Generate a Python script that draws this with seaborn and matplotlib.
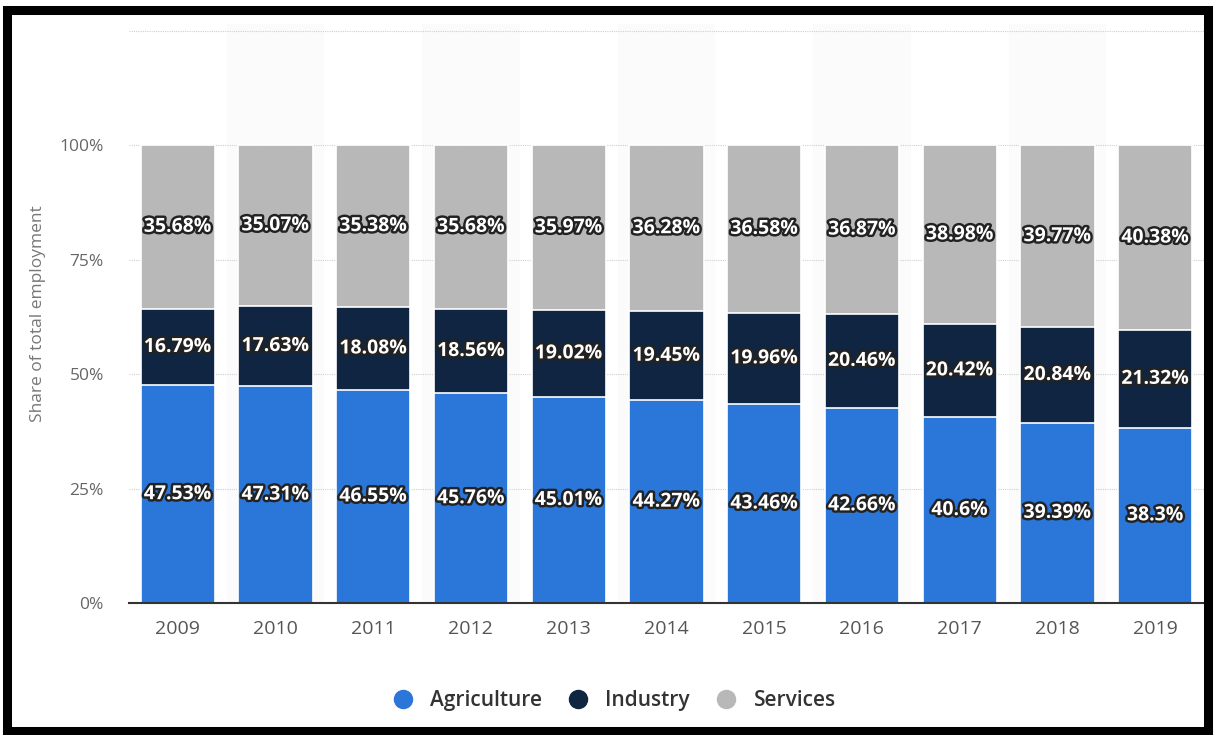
import matplotlib.pyplot as plt
import matplotlib.patheffects as pe
import numpy as np
import pandas as pd
import seaborn as sns
from matplotlib.lines import Line2D
from matplotlib.patches import Rectangle

years = ["2009", "2010", "2011", "2012", "2013", "2014", "2015", "2016", "2017", "2018", "2019"]
agriculture = [47.53, 47.31, 46.55, 45.76, 45.01, 44.27, 43.46, 42.66, 40.6, 39.39, 38.3]
industry = [16.79, 17.63, 18.08, 18.56, 19.02, 19.45, 19.96, 20.46, 20.42, 20.84, 21.32]
services = [35.68, 35.07, 35.38, 35.68, 35.97, 36.28, 36.58, 36.87, 38.98, 39.77, 40.38]
sectors = ["Agriculture", "Industry", "Services"]
colors = ["#2a76d9", "#0f2541", "#b8b8b8"]

sns.set_style("white")
plt.rcParams["font.family"] = ["Open Sans", "DejaVu Sans"]

df = pd.DataFrame({"year": years, "Agriculture": agriculture,
                   "Industry": industry, "Services": services})
df["ag_top"] = df["Agriculture"]
df["ind_top"] = df["Agriculture"] + df["Industry"]
df["srv_top"] = df["ind_top"] + df["Services"]

fig = plt.figure(figsize=(12.15, 7.35), dpi=100)
ax = fig.add_axes([0.106, 0.1796, 0.885, 0.788])

# alternating column shading (very faint)
for i in range(len(years)):
    if i % 2 == 1:
        ax.axvspan(i - 0.5, i + 0.5, color="#fbfbfb", zorder=0, lw=0)

# dotted grid
for y in [25, 50, 75, 100, 125]:
    ax.axhline(y, color="#d0d0d0", lw=0.8, ls=(0, (1, 1)), zorder=0.5)

# stacked bars drawn as cumulative totals, largest first
for col, color in zip(["srv_top", "ind_top", "ag_top"], colors[::-1]):
    sns.barplot(data=df, x="year", y=col, color=color, width=0.76,
                edgecolor="white", linewidth=1.2, saturation=1, ax=ax, zorder=2)

stroke = [pe.withStroke(linewidth=3.5, foreground="#222222")]
for i in range(len(years)):
    segs = [(0, agriculture[i]),
            (agriculture[i], industry[i]),
            (agriculture[i] + industry[i], services[i])]
    for base, val in segs:
        ax.text(i, base + val / 2, f"{val:g}%", ha="center", va="center",
                color="white", fontsize=14, fontweight="bold",
                path_effects=stroke, zorder=5)

ax.set_xlim(-0.5, len(years) - 0.5)
ax.set_ylim(0, 126.5)
ax.set_yticks([0, 25, 50, 75, 100])
ax.set_yticklabels(["0%", "25%", "50%", "75%", "100%"])
ax.tick_params(axis="y", length=0, labelsize=12.5, labelcolor="#666666", pad=18)
ax.tick_params(axis="x", length=0, labelsize=14, labelcolor="#555555", pad=12)
ax.set_xlabel("")
ax.set_ylabel("Share of total employment", fontsize=12.5, color="#777777", labelpad=10)
for side in ["top", "right", "left"]:
    ax.spines[side].set_visible(False)
ax.spines["bottom"].set_color("#333333")
ax.spines["bottom"].set_linewidth(1.5)
ax.spines["bottom"].set_zorder(6)

handles = [Line2D([], [], marker="o", ls="", markersize=13, color=c) for c in colors]
fig.legend(handles, sectors, loc="center", bbox_to_anchor=(0.501, 0.047),
           ncol=3, frameon=False, labelcolor="#333333",
           prop={"size": 15, "weight": "semibold"},
           handletextpad=0.3, columnspacing=0.75)

# black frame around the picture
fig.patches.append(Rectangle((0.0055, 0.006), 0.989, 0.981, transform=fig.transFigure,
                             fill=False, edgecolor="black", lw=6.5, zorder=10))

fig.savefig("out.png", dpi=100, facecolor="white")
